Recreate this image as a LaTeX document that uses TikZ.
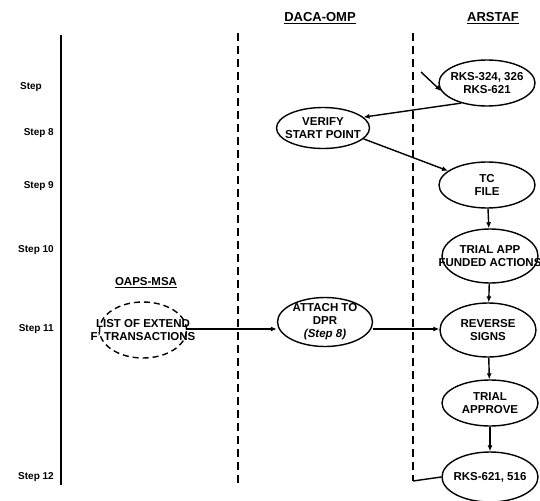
\documentclass[tikz,border=0pt]{standalone}
\usepackage{fontspec}
\setmainfont{Liberation Sans}
\usetikzlibrary{shapes.geometric,arrows.meta}
\begin{document}
\begin{tikzpicture}[x=1pt,y=-1pt,
  proc/.style={draw, ellipse, line width=1.4pt, minimum width=96pt, minimum height=46pt, inner sep=0pt},
  dproc/.style={proc, dash pattern=on 6pt off 4pt},
  txt/.style={font=\bfseries\fontsize{11.5}{13}\selectfont, align=center, inner sep=0pt},
  steplbl/.style={font=\bfseries\fontsize{10}{11}\selectfont, anchor=east, inner sep=0pt},
  head/.style={font=\bfseries\fontsize{13}{14}\selectfont, inner sep=0pt},
  lane/.style={line width=1.3pt},
  dlane/.style={line width=1.3pt, dash pattern=on 8pt off 5pt},
  flow/.style={line width=1.4pt, -{Latex[length=6pt,width=5pt]}},
  link/.style={line width=1.4pt}]
\useasboundingbox (0,0) rectangle (540,500);

% swim-lane separators
\coordinate (l0t) at (61,35);  \coordinate (l0b) at (61,485);
\coordinate (l1t) at (238,33); \coordinate (l1b) at (238,485);
\coordinate (l2t) at (413,33); \coordinate (l2b) at (413,481);
\draw[lane]  (l0t) -- (l0b);
\draw[dlane] (l1t) -- (l1b);
\draw[dlane] (l2t) -- (l2b);

% lane headings
\node[head] (hdaca) at (320,18) {\underline{DACA-OMP}};
\node[head] (harst) at (493,18) {\underline{ARSTAF}};
\node[head, font=\bfseries\fontsize{11.5}{13}\selectfont] (hoaps) at (146,283) {\underline{OAPS-MSA}};

% step labels
\node[steplbl] (s7)  at (42,87)  {Step};
\node[steplbl] (s8)  at (54,133) {Step 8};
\node[steplbl] (s9)  at (54,186) {Step 9};
\node[steplbl] (s10) at (54,250) {Step 10};
\node[steplbl] (s11) at (54,329) {Step 11};
\node[steplbl] (s12) at (54,477) {Step 12};

% process ellipses
\node[proc] (rks1)   at (487,83)  {};
\node[proc, minimum width=93pt, minimum height=41pt] (verify) at (323,128) {};
\node[proc] (tc)     at (487,185) {};
\node[proc, minimum height=54pt] (trialapp) at (490,256) {};
\node[proc, minimum height=54pt] (reverse)  at (488,330) {};
\node[proc] (approve) at (490,403) {};
\node[proc, minimum height=50pt] (rks2) at (490,477) {};
\node[proc, minimum width=95pt, minimum height=49pt] (attach) at (325,322) {};
\node[dproc, minimum width=87pt, minimum height=56pt] (list) at (143,330) {};

% ellipse texts
\node[txt] (rks1t)    at (rks1)     {RKS-324, 326\\RKS-621};
\node[txt] (verifyt)  at (verify)   {VERIFY\\START POINT};
\node[txt] (tct)      at (tc)       {TC\\FILE};
\node[txt] (trialappt) at (trialapp) {TRIAL APP\\FUNDED ACTIONS};
\node[txt] (reverset) at (reverse)  {REVERSE\\SIGNS};
\node[txt] (approvet) at (approve)  {TRIAL\\APPROVE};
\node[txt] (rks2t)    at (rks2)     {RKS-621, 516};
\node[txt] (attacht)  at (attach)   {ATTACH TO\\DPR\\{\itshape(Step 8)}};
\node[txt] (listt)    at (list)     {LIST OF EXTEND\\F' TRANSACTIONS};

% connectors
\coordinate (in1) at (421,72);
\draw[flow] (in1) -- (rks1.190);
\draw[flow] (rks1.218) -- (verify.15);
\draw[flow] (verify.-15) -- (tc.160);
\draw[flow] (tc) -- (trialapp);
\draw[flow] (trialapp) -- (reverse);
\draw[flow] (reverse) -- (approve);
\draw[flow] (approve) -- (rks2);
\draw[flow] (list.east |- 0,329) -- (attach.west |- 0,329);
\draw[flow] (attach.east |- 0,329) -- (reverse.west |- 0,329);
\draw[link] (l2b) -- (rks2.west);
\end{tikzpicture}
\end{document}
